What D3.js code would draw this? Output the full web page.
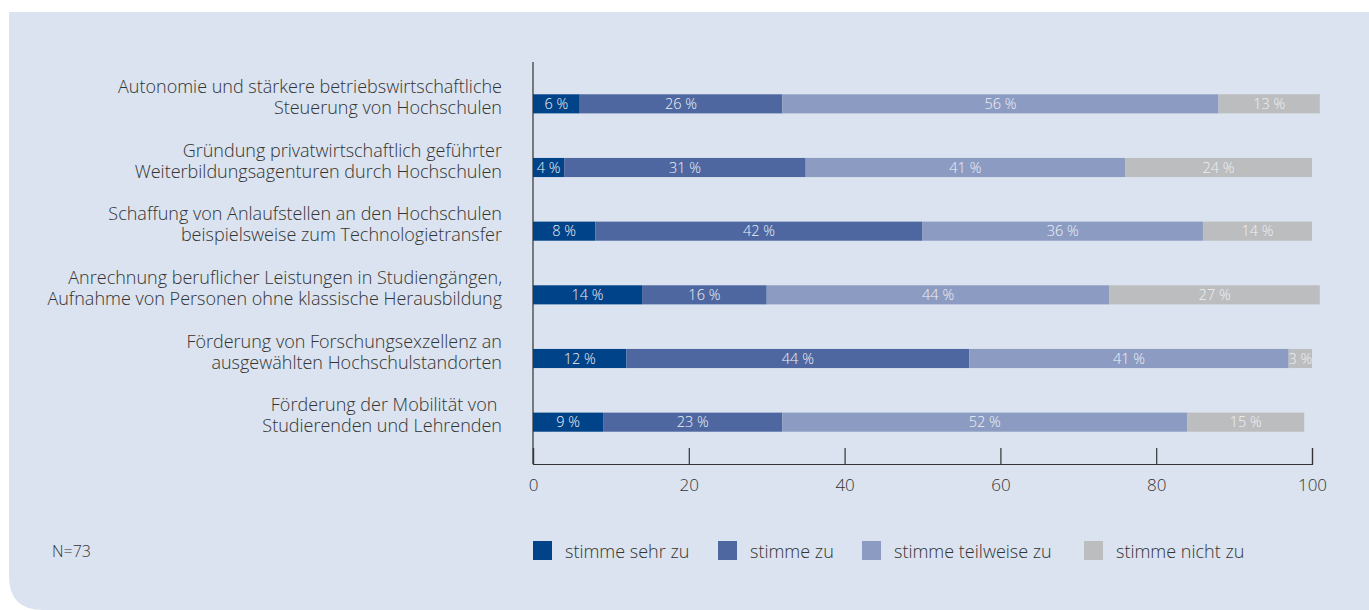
<!DOCTYPE html>
<html>
<head>
<meta charset="utf-8">
<script src="https://cdn.jsdelivr.net/npm/d3@7"></script>
<style>
  body { margin: 0; background: #fff; }
  text { font-family: "Open Sans", "Noto Sans", sans-serif; font-weight: 300; }
</style>
</head>
<body>
<div class="canvas"></div>
<script>
// data
const categories = [
  ["Autonomie und stärkere betriebswirtschaftliche", "Steuerung von Hochschulen"],
  ["Gründung privatwirtschaftlich geführter", "Weiterbildungsagenturen durch Hochschulen"],
  ["Schaffung von Anlaufstellen an den Hochschulen", "beispielsweise zum Technologietransfer"],
  ["Anrechnung beruflicher Leistungen in Studiengängen,", "Aufnahme von Personen ohne klassische Herausbildung"],
  ["Förderung von Forschungsexzellenz an", "ausgewählten Hochschulstandorten"],
  ["Förderung der Mobilität von ", "Studierenden und Lehrenden"]
]
const seriesNames = ["stimme sehr zu", "stimme zu", "stimme teilweise zu", "stimme nicht zu"]
const sehrZu = [6, 4, 8, 14, 12, 9]
const zu = [26, 31, 42, 16, 44, 23]
const teilweise = [56, 41, 36, 44, 41, 52]
const nicht = [13, 24, 14, 27, 3, 15]
const xTicks = [0, 20, 40, 60, 80, 100]
const note = "N=73"

const colors = ["#004388", "#4f67a0", "#8c9bc2", "#bcbdbf"]

/**
 * Dimensions
 */
const W = 1369, H = 610
const svg = d3.select(".canvas")
  .append("svg")
  .attr("width", W)
  .attr("height", H)

// panel background, rounded bottom-left corner
const px = 9, py = 12, r = 34
svg.append("path")
  .attr("fill", "#dae3ef")
  .attr("d", `M${px},${py} H${W} V${H} H${px + r} Q${px},${H} ${px},${H - r} Z`)

const x = d3.scaleLinear().domain([0, 100]).range([533, 1312])
const y = d3.scaleBand()
  .domain(d3.range(categories.length))
  .range([72, 454])
  .paddingInner(0.7)
  .paddingOuter(0.35)

const rows = categories.map((c, i) => ({ i, vals: [sehrZu[i], zu[i], teilweise[i], nicht[i]] }))
const stack = d3.stack().keys([0, 1, 2, 3]).value((d, k) => d.vals[k])
const layers = stack(rows)

const defs = svg.append("defs")

layers.forEach((layer, k) => {
  const g = svg.append("g")
  layer.forEach((d, i) => {
    const x0 = x(d[0]), x1 = x(d[1])
    const id = `clip-${k}-${i}`
    defs.append("clipPath").attr("id", id)
      .append("rect")
      .attr("x", x0).attr("y", y(i))
      .attr("width", x1 - x0).attr("height", y.bandwidth())
    g.append("rect")
      .attr("x", x0).attr("y", y(i))
      .attr("width", x1 - x0).attr("height", y.bandwidth())
      .attr("fill", colors[k])
    g.append("text")
      .attr("clip-path", `url(#${id})`)
      .attr("x", (x0 + x1) / 2)
      .attr("y", y(i) + y.bandwidth() / 2 + 5)
      .attr("text-anchor", "middle")
      .attr("fill", "#eef1f7")
      .attr("font-size", 14.5)
      .text(`${d.data.vals[k]} %`)
  })
})

// category labels
categories.forEach((lines, i) => {
  const t = svg.append("text")
    .attr("text-anchor", "end")
    .attr("fill", "#333")
    .attr("font-size", 18)
  lines.forEach((l, j) => {
    t.append("tspan")
      .attr("x", 502)
      .attr("y", y(i) + y.bandwidth() / 2 - 11 + j * 21)
      .text(l)
  })
})

// axes
svg.append("line")
  .attr("x1", x(0)).attr("x2", x(0))
  .attr("y1", 62).attr("y2", 464)
  .attr("stroke", "#333").attr("stroke-width", 1.2)

const xAxis = svg.append("g")
  .attr("transform", "translate(0,464)")
  .call(d3.axisBottom(x).tickValues(xTicks).tickSize(-16).tickPadding(15))
xAxis.select(".domain").attr("stroke", "#333").attr("stroke-width", 1.2)
xAxis.selectAll(".tick line").attr("stroke", "#333").attr("stroke-width", 1.2)
xAxis.selectAll(".tick text")
  .attr("fill", "#333")
  .attr("font-size", 17)
  .style("font-family", "'Open Sans', sans-serif")
  .style("font-weight", 300)

// legend
const legendX = [533, 718, 862, 1084]
seriesNames.forEach((name, k) => {
  svg.append("rect")
    .attr("x", legendX[k]).attr("y", 541)
    .attr("width", 19).attr("height", 19)
    .attr("fill", colors[k])
  svg.append("text")
    .attr("x", legendX[k] + 32).attr("y", 558)
    .attr("fill", "#333")
    .attr("font-size", 18)
    .text(name)
})

svg.append("text")
  .attr("x", 52).attr("y", 557)
  .attr("fill", "#333")
  .attr("font-size", 16)
  .text(note)
</script>
</body>
</html>
